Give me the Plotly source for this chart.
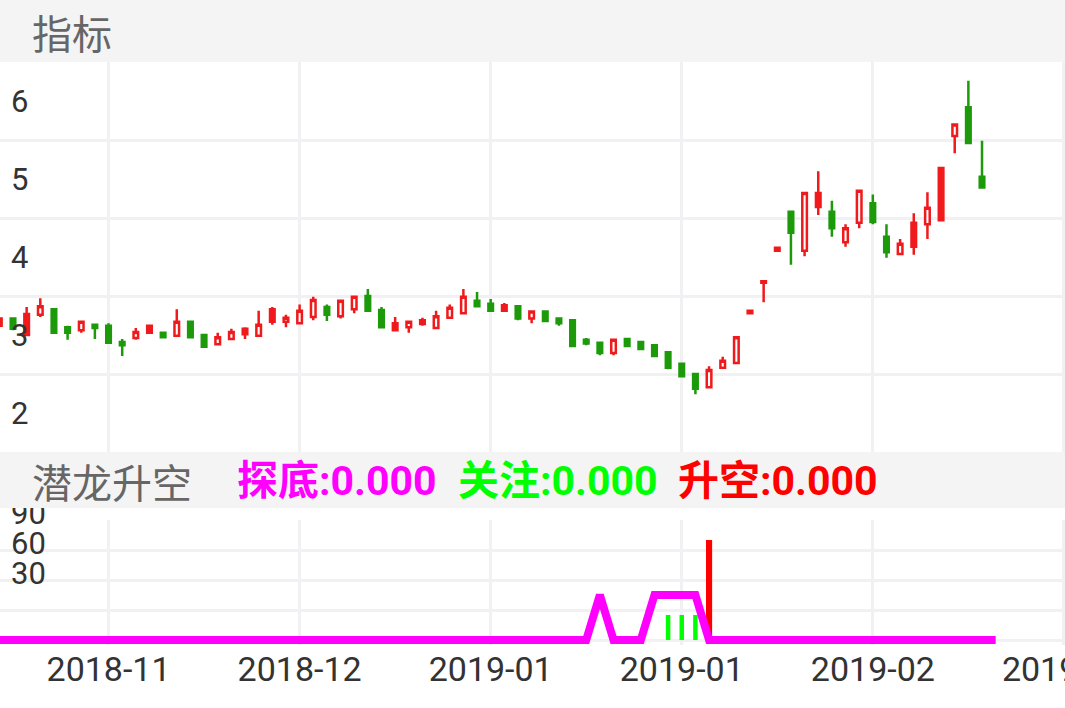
import plotly.graph_objects as go

# daily K-line, one entry per trading day (index 0..72)
opens = [3.62, 3.71, 3.50, 3.76, 3.83, 3.60, 3.56, 3.63, 3.62, 3.41,
         3.46, 3.53, 3.53, 3.49, 3.67, 3.50, 3.38, 3.45, 3.51, 3.49,
         3.67, 3.67, 3.65, 3.73, 3.86, 3.74, 3.83, 4.00, 3.82, 3.56,
         3.60, 3.64, 3.59, 3.72, 3.78, 3.94, 3.90, 3.81, 3.87, 3.71,
         3.80, 3.71, 3.69, 3.44, 3.40, 3.27, 3.45, 3.41, 3.37, 3.28,
         3.13, 3.00, 2.83, 3.08, 3.14, 3.78, 4.17, 4.58, 5.08, 4.58,
         5.14, 5.08, 4.69, 4.94, 5.19, 4.76, 4.54, 4.63, 4.92, 4.97,
         6.05, 6.42, 5.53]
highs = [3.71, 3.71, 3.86, 3.97, 3.83, 3.62, 3.67, 3.63, 3.65, 3.45,
         3.59, 3.62, 3.54, 3.83, 3.68, 3.50, 3.53, 3.58, 3.60, 3.81,
         3.86, 3.76, 3.89, 3.99, 3.89, 3.94, 3.99, 4.09, 3.86, 3.73,
         3.67, 3.72, 3.81, 3.89, 4.09, 4.05, 3.96, 3.91, 3.87, 3.80,
         3.80, 3.71, 3.69, 3.46, 3.40, 3.44, 3.45, 3.42, 3.37, 3.28,
         3.13, 3.00, 3.10, 3.22, 3.47, 3.81, 4.19, 4.62, 5.08, 5.32,
         5.60, 5.22, 4.92, 5.35, 5.30, 4.92, 4.73, 5.06, 5.33, 5.64,
         6.20, 6.76, 5.99]
lows = [3.62, 3.56, 3.50, 3.73, 3.53, 3.44, 3.53, 3.45, 3.40, 3.23,
        3.44, 3.53, 3.46, 3.49, 3.47, 3.35, 3.38, 3.45, 3.45, 3.49,
        3.63, 3.60, 3.65, 3.69, 3.68, 3.71, 3.78, 3.81, 3.60, 3.56,
        3.53, 3.62, 3.59, 3.72, 3.78, 3.87, 3.81, 3.81, 3.69, 3.65,
        3.68, 3.62, 3.36, 3.37, 3.24, 3.24, 3.36, 3.32, 3.23, 3.06,
        2.97, 2.74, 2.83, 3.08, 3.13, 3.78, 3.92, 4.58, 4.40, 4.51,
        5.04, 4.76, 4.63, 4.87, 4.92, 4.49, 4.54, 4.53, 4.73, 4.97,
        5.83, 5.96, 5.39]
closes = [3.71, 3.58, 3.77, 3.87, 3.53, 3.53, 3.67, 3.59, 3.40, 3.37,
          3.54, 3.62, 3.47, 3.67, 3.47, 3.35, 3.47, 3.54, 3.58, 3.63,
          3.83, 3.72, 3.81, 3.95, 3.76, 3.94, 3.99, 3.81, 3.60, 3.65,
          3.67, 3.69, 3.74, 3.85, 3.99, 3.87, 3.81, 3.88, 3.71, 3.80,
          3.68, 3.65, 3.36, 3.39, 3.27, 3.44, 3.36, 3.32, 3.23, 3.08,
          2.97, 2.81, 3.05, 3.17, 3.47, 3.81, 4.19, 4.62, 4.81, 5.32,
          5.32, 4.87, 4.87, 5.35, 4.95, 4.56, 4.67, 4.94, 5.13, 5.64,
          6.20, 5.96, 5.39]
# up-days that the app paints as filled red instead of hollow
solid_red_days = [0, 2, 11, 18, 20, 29, 31, 37, 55, 56, 57, 60, 67, 69]

# 潜龙升空 indicator
tandi = [0, 0, 0, 0, 0, 0, 0, 0, 0, 0,
         0, 0, 0, 0, 0, 0, 0, 0, 0, 0,
         0, 0, 0, 0, 0, 0, 0, 0, 0, 0,
         0, 0, 0, 0, 0, 0, 0, 0, 0, 0,
         0, 0, 0, 0, 45, 0, 0, 0, 45, 45,
         45, 45, 0, 0, 0, 0, 0, 0, 0, 0,
         0, 0, 0, 0, 0, 0, 0, 0, 0, 0,
         0, 0, 0, 0]
guanzhu_days = [49, 50, 51]
guanzhu_vals = [25, 25, 25]
shengkong_days = [52]
shengkong_vals = [100]

# axis ticks
x_tick_pos = [8, 22, 36, 50, 64, 78]
x_tick_text = ["2018-11", "2018-12", "2019-01", "2019-01", "2019-02", "2019-03"]
price_ticks = [2, 3, 4, 5, 6, 7]
price_tick_text = ["2", "3", "4", "5", "6", ""]
ind_ticks = [0, 30, 60, 90, 120]
ind_tick_text = ["", "30", "60", "90", ""]

RED = "#f01a1c"
GREEN = "#1c9a0a"
GRID = "#f1f1f3"
W, H = 1065, 708
X_RANGE = [0.0475, 78.08]

days = list(range(len(opens)))
normal = [d for d in days if d not in solid_red_days]


def pick(seq, idx):
    return [seq[i] for i in idx]


fig = go.Figure()

# hollow red ups + solid green downs
fig.add_trace(go.Candlestick(
    x=normal, open=pick(opens, normal), high=pick(highs, normal),
    low=pick(lows, normal), close=pick(closes, normal),
    increasing=dict(line=dict(color=RED, width=2.5), fillcolor="white"),
    decreasing=dict(line=dict(color=GREEN, width=2.5), fillcolor=GREEN),
    xaxis="x", yaxis="y", showlegend=False,
))
# filled red ups
fig.add_trace(go.Candlestick(
    x=solid_red_days, open=pick(opens, solid_red_days),
    high=pick(highs, solid_red_days), low=pick(lows, solid_red_days),
    close=pick(closes, solid_red_days),
    increasing=dict(line=dict(color=RED, width=2.5), fillcolor=RED),
    decreasing=dict(line=dict(color=GREEN, width=2.5), fillcolor=GREEN),
    xaxis="x", yaxis="y", showlegend=False,
))

# indicator panel
fig.add_trace(go.Bar(x=guanzhu_days, y=guanzhu_vals, width=0.33,
                     marker=dict(color="#00ff00", line=dict(width=0)),
                     xaxis="x2", yaxis="y2", showlegend=False))
fig.add_trace(go.Bar(x=shengkong_days, y=shengkong_vals, width=0.45,
                     marker=dict(color="#ff0000", line=dict(width=0)),
                     xaxis="x2", yaxis="y2", showlegend=False))
fig.add_trace(go.Scatter(x=list(range(len(tandi))), y=tandi, mode="lines",
                         line=dict(color="#ff00ff", width=8),
                         xaxis="x2", yaxis="y2", showlegend=False))

axis_common = dict(showgrid=True, gridcolor=GRID, gridwidth=3, zeroline=False,
                   showline=False, ticks="", fixedrange=True, automargin=False)
ylab_font = dict(family="Roboto, sans-serif", size=31, color="#333333")

fig.update_layout(
    width=W, height=H,
    margin=dict(l=0, r=0, t=0, b=0, autoexpand=False),
    paper_bgcolor="white", plot_bgcolor="white",
    boxgap=0.52, barmode="overlay",
    xaxis=dict(domain=[0, 1], anchor="y", range=X_RANGE,
               tickvals=x_tick_pos, showticklabels=False,
               rangeslider=dict(visible=False), **axis_common),
    yaxis=dict(domain=[1 - 452 / H, 1 - 62 / H], anchor="x", range=[2, 7],
               tickvals=price_ticks, ticktext=price_tick_text,
               ticklabelposition="inside", ticklabelshift=-39,
               ticklabelstandoff=8, ticklabeloverflow="allow",
               tickfont=ylab_font, **axis_common),
    xaxis2=dict(domain=[0, 1], anchor="y2", range=X_RANGE,
                tickvals=x_tick_pos, ticktext=x_tick_text,
                ticklabeloverflow="allow", ticklabelstandoff=1,
                tickfont=dict(family="Roboto, sans-serif", size=34, color="#333333"),
                **axis_common),
    yaxis2=dict(domain=[1 - 645 / H, 1 - 520 / H], anchor="x2", range=[-5, 120],
                tickvals=ind_ticks, ticktext=ind_tick_text,
                ticklabelposition="inside", ticklabelshift=-37,
                ticklabelstandoff=8, ticklabeloverflow="allow",
                tickfont=ylab_font, **axis_common),
    font=dict(family="Roboto, Noto Sans CJK SC, sans-serif"),
)

# header bands
fig.add_shape(type="rect", xref="paper", yref="paper", x0=0, x1=1,
              y0=1 - 62 / H, y1=1, fillcolor="#f4f4f4", line_width=0, layer="above")
fig.add_shape(type="rect", xref="paper", yref="paper", x0=0, x1=1,
              y0=1 - 508 / H, y1=1 - 452 / H, fillcolor="#f4f4f4", line_width=0,
              layer="above")

cjk = "Noto Sans CJK SC, sans-serif"
fig.add_annotation(text="指标", xref="paper", yref="paper", x=30 / W, y=1 - 32 / H,
                   xanchor="left", yanchor="middle", showarrow=False,
                   font=dict(family=cjk, size=40, color="#666666"))
fig.add_annotation(text="潜龙升空", xref="paper", yref="paper", x=30 / W, y=1 - 481 / H,
                   xanchor="left", yanchor="middle", showarrow=False,
                   font=dict(family=cjk, size=40, color="#666666"))

legend_items = [("探底:0.000", "#ff00ff", 235), ("关注:0.000", "#00ff00", 456),
                ("升空:0.000", "#ff0000", 676)]
for label, color, px_x in legend_items:
    fig.add_annotation(text=label, xref="paper", yref="paper", x=px_x / W,
                       y=1 - 481 / H, xanchor="left", yanchor="middle",
                       showarrow=False,
                       font=dict(family="Roboto, Noto Sans CJK SC, sans-serif",
                                 size=41, color=color, weight="bold"))

# page body has a default 8px margin; drop it so the chart sits at the corner
fig.write_html("out.html", config={"displayModeBar": False},
               post_script="document.body.style.margin='0';")
